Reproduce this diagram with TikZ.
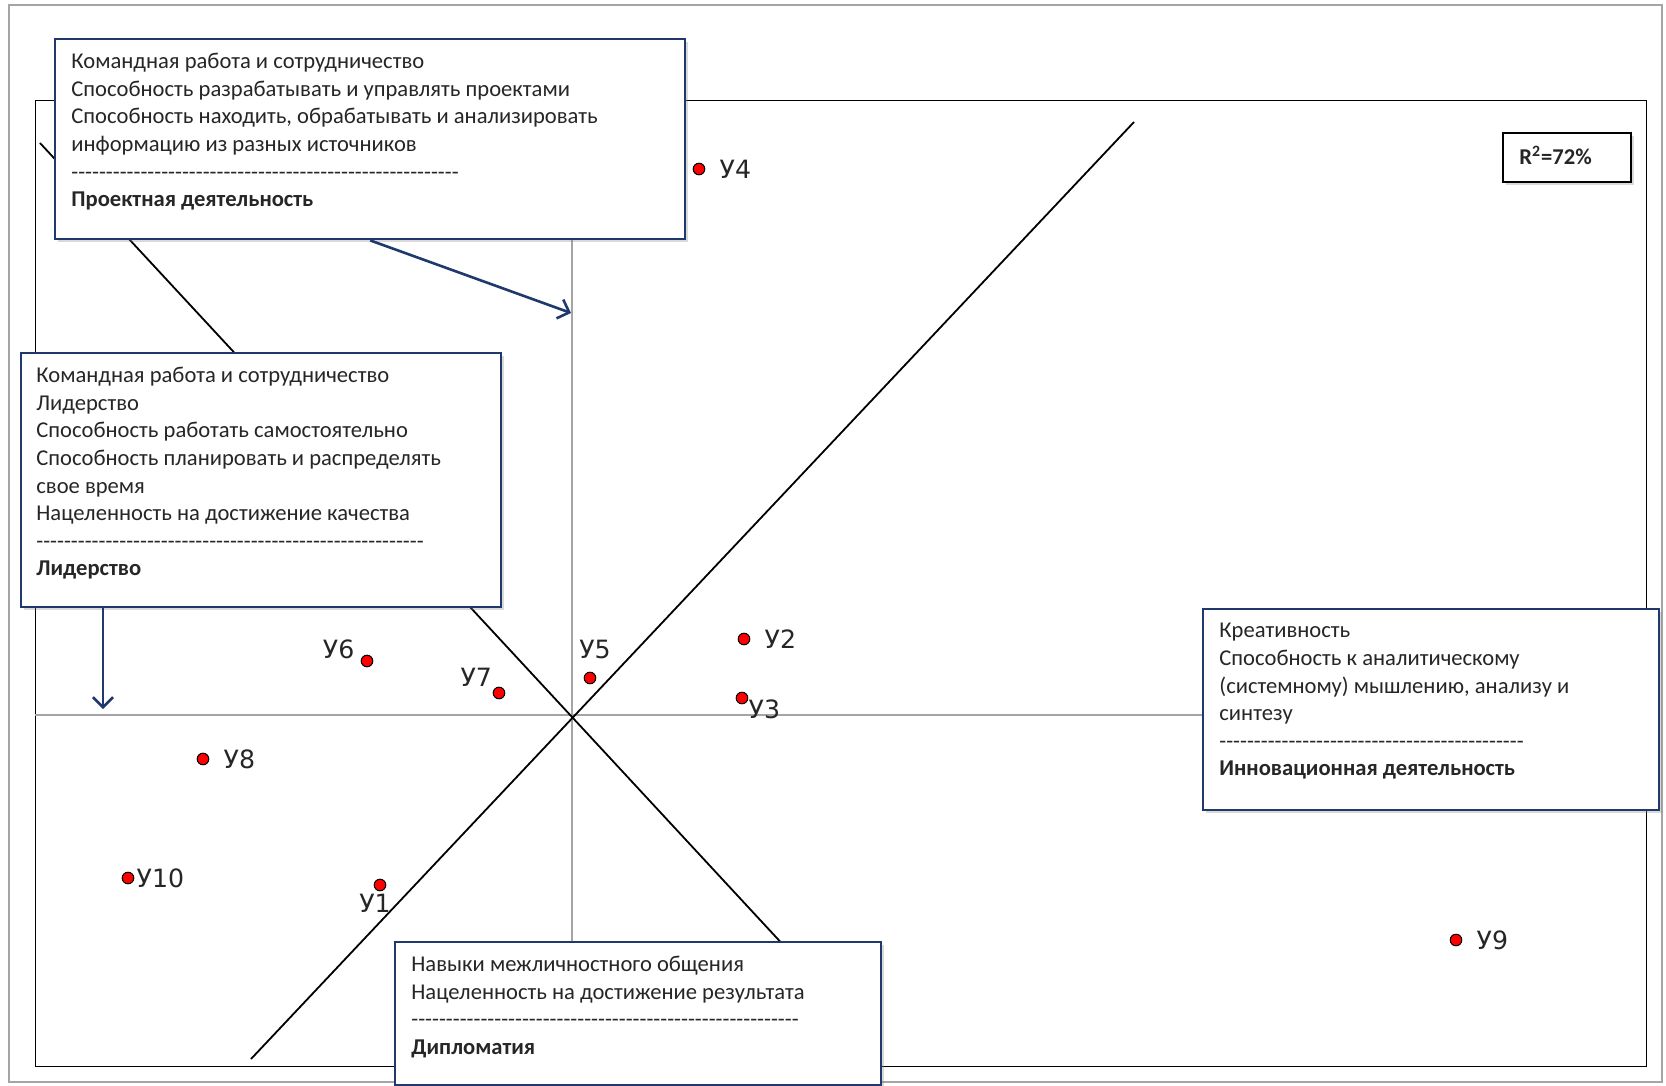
\documentclass[tikz,border=0pt]{standalone}
\usepackage{fontspec}
\setmainfont{Carlito}[Ligatures=TeXOff]
\newfontfamily\ptfont{DejaVu Sans}
\usetikzlibrary{positioning,arrows.meta,shadows}
\definecolor{navy}{RGB}{31,56,110}
\definecolor{axisgray}{RGB}{165,165,165}

\begin{document}
\begin{tikzpicture}[x=0.5pt, y=-0.5pt,
  panel/.style={rectangle, draw=navy, line width=1.2pt, fill=white, anchor=north west, inner sep=0pt,
    drop shadow={opacity=0.3, shadow xshift=1.5pt, shadow yshift=-1.5pt}},
  paneltext/.style={anchor=north west, inner sep=0pt, align=left, text=black!85,
    font=\fontsize{11.3}{13.8}\selectfont},
  dot/.style={circle, draw=black, fill=red, line width=0.5pt, minimum size=5.8pt, inner sep=0pt},
  ulabel/.style={inner sep=0pt, text=black!85, font=\ptfont\fontsize{12.6}{14}\selectfont},
  arrow/.style={-{Straight Barb[length=5pt, width=10pt, line width=1.3pt]}, draw=navy, line width=1.3pt},
  diag/.style={draw=black, line width=0.9pt}
]
\useasboundingbox (0,0) rectangle (1666,1086);

% frames and axes
\draw[axisgray, line width=1pt] (9,5) rectangle (1662,1082);
\draw[black, line width=0.5pt] (35,101) rectangle (1646,1066);
\coordinate (xl) at (35,715);
\coordinate (xr) at (1646,715);
\coordinate (yt) at (572,101);
\coordinate (yb) at (572,1066);
\draw[axisgray, line width=0.6pt] (xl) -- (xr);
\draw[axisgray, line width=0.6pt] (yt) -- (yb);

% diagonals
\coordinate (d1a) at (251,1059);
\coordinate (d1b) at (1134,122);
\coordinate (d2a) at (40,143);
\coordinate (d2b) at (800,963);
\draw[diag] (d1a) -- (d1b);
\draw[diag] (d2a) -- (d2b);

% points
\node[dot] (u1) at (380,885) {};
\node[dot] (u2) at (744,639) {};
\node[dot] (u3) at (742,698) {};
\node[dot] (u4) at (699,169) {};
\node[dot] (u5) at (590,678) {};
\node[dot] (u6) at (367,661) {};
\node[dot] (u7) at (499,693) {};
\node[dot] (u8) at (203,759) {};
\node[dot] (u9) at (1456,940) {};
\node[dot] (u10) at (128,878) {};

\node[ulabel, below=1pt of u1, xshift=-2.5pt] (l1) {У1};
\node[ulabel, right=7pt of u2] (l2) {У2};
\node[ulabel, right=0pt of u3, yshift=-5.5pt] (l3) {У3};
\node[ulabel, right=7pt of u4] (l4) {У4};
\node[ulabel, above=6pt of u5, xshift=2.5pt] (l5) {У5};
\node[ulabel, left=3pt of u6, yshift=6pt] (l6) {У6};
\node[ulabel, above left=1.5pt of u7] (l7) {У7};
\node[ulabel, right=7pt of u8] (l8) {У8};
\node[ulabel, right=7pt of u9] (l9) {У9};
\node[ulabel, right=1pt of u10] (l10) {У10};

% boxes
\node[panel, minimum width=315pt, minimum height=100pt] (proj) at (54,38) {};
\node[paneltext] (projtxt) at (71,53) {Командная работа и сотрудничество\\
Способность разрабатывать и управлять проектами\\
Способность находить, обрабатывать и анализировать\\
информацию из разных источников\\
--------------------------------------------------------\\
\textbf{Проектная деятельность}};

\node[panel, minimum width=240pt, minimum height=127pt] (lead) at (20,352) {};
\node[paneltext] (leadtxt) at (36,367) {Командная работа и сотрудничество\\
Лидерство\\
Способность работать самостоятельно\\
Способность планировать и распределять\\
свое время\\
Нацеленность на достижение качества\\
--------------------------------------------------------\\
\textbf{Лидерство}};

\node[panel, minimum width=228pt, minimum height=100.5pt] (innov) at (1202,608) {};
\node[paneltext] (innovtxt) at (1219,623) {Креативность\\
Способность к аналитическому\\
(системному) мышлению, анализу и\\
синтезу\\
--------------------------------------------\\
\textbf{Инновационная деятельность}};

\node[panel, minimum width=243pt, minimum height=71.5pt] (dipl) at (394,941) {};
\node[paneltext] (dipltxt) at (411,956) {Навыки межличностного общения\\
Нацеленность на достижение результата\\
--------------------------------------------------------\\
\textbf{Дипломатия}};

\node[panel, draw=black, line width=0.8pt, minimum width=64pt, minimum height=24.5pt] (r2) at (1502,132) {};
\node[paneltext, anchor=west] (r2txt) at (1519,155) {\textbf{R\textsuperscript{2}=72\%}};

% arrows
\coordinate (projtip) at (571,313);
\coordinate (leadtip) at (103,709);
\draw[arrow] (proj.south) -- (projtip);
\draw[arrow] (lead.south -| leadtip) -- (leadtip);

\end{tikzpicture}
\end{document}
